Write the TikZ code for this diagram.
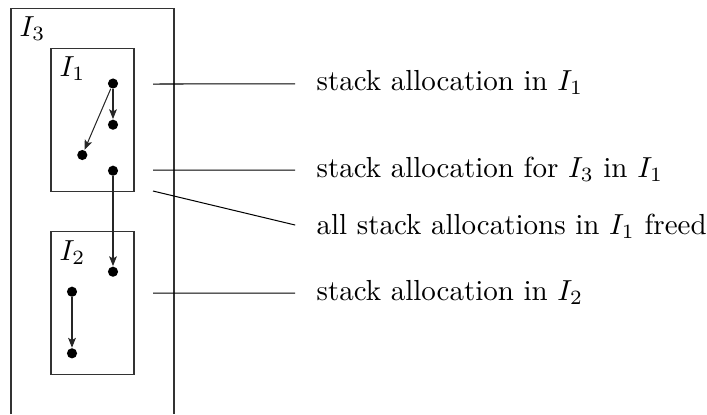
\documentclass[tikz,border=0pt]{standalone}
\usetikzlibrary{arrows.meta}
\begin{document}
\begin{tikzpicture}[x=0.345pt,y=-0.345pt,
  dot/.style={circle,fill=black,inner sep=0pt,minimum size=3.5pt},
  frame/.style={draw=black!80,line width=0.35pt},
  flow/.style={-{Stealth[length=3.4pt,width=2.7pt,inset=0.8pt]},line width=0.35pt,draw=black!85},
  note/.style={anchor=base west,inner sep=0pt},
  lead/.style={line width=0.35pt},
  boxlabel/.style={anchor=base west,inner sep=0pt}]
  \useasboundingbox (0,0) rectangle (707,414);

  % outer region I_3 (open at the bottom)
  \draw[frame] (11,414) -- (11,8) -- (174,8) -- (174,414);
  \node[boxlabel] (l3) at (19,36) {$I_3$};

  % inner regions
  \draw[frame] (51,48) rectangle (134,191);
  \node[boxlabel] (l1) at (59,76) {$I_1$};
  \draw[frame] (51,231) rectangle (134,374);
  \node[boxlabel] (l2) at (59,260) {$I_2$};

  % allocation points
  \node[dot] (d1) at (113,83.5) {};
  \node[dot] (d2) at (113,124.7) {};
  \node[dot] (d3) at (82.3,155) {};
  \node[dot] (d4) at (113,170.7) {};
  \node[dot] (d5) at (113,271.7) {};
  \node[dot] (d6) at (72,291.7) {};
  \node[dot] (d7) at (72,353.3) {};

  \draw[flow] (d1) -- (d2);
  \draw[flow] (d1) -- (d3);
  \draw[flow] (d4) -- (d5);
  \draw[flow] (d6) -- (d7);

  % annotations
  \node[note] (t1) at (316,90) {stack allocation in $I_1$};
  \node[note] (t2) at (316,177) {stack allocation for $I_3$ in $I_1$};
  \node[note] (t3) at (316,234) {all stack allocations in $I_1$ freed};
  \node[note] (t4) at (316,300) {stack allocation in $I_2$};

  \coordinate (s1) at (153,84);
  \coordinate (s2) at (153,170);
  \coordinate (s3) at (153,191);
  \coordinate (s4) at (153,293);

  \draw[lead] (s1) -- ([xshift=-7.2pt,yshift=2.1pt]t1.base west);
  \draw[lead] (s2) -- ([xshift=-7.2pt,yshift=2.4pt]t2.base west);
  \draw[lead] (s3) -- ([xshift=-7.2pt,yshift=3.1pt]t3.base west);
  \draw[lead] (s4) -- ([xshift=-7.2pt,yshift=2.4pt]t4.base west);
\end{tikzpicture}
\end{document}
